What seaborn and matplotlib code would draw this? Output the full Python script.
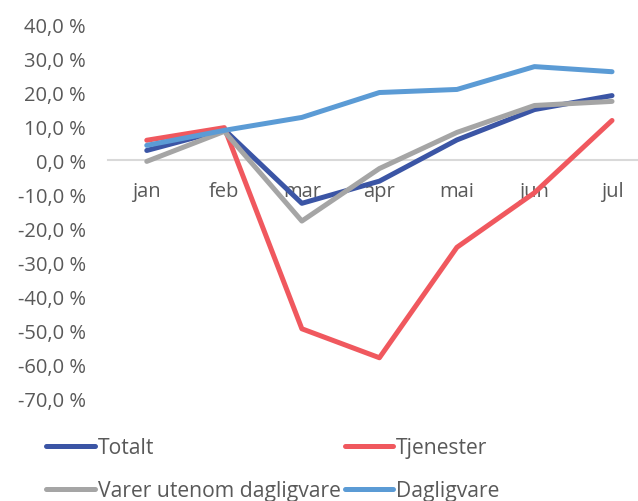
import matplotlib
matplotlib.use("Agg")
import matplotlib.pyplot as plt
import seaborn as sns
import pandas as pd
from matplotlib.ticker import FuncFormatter

# Data (percent change)
months = ["jan", "feb", "mar", "apr", "mai", "jun", "jul"]
totalt = [2.9, 9.0, -12.6, -6.1, 6.0, 14.9, 19.0]
tjenester = [5.9, 9.6, -49.4, -57.9, -25.5, -9.5, 11.7]
varer = [-0.3, 8.5, -17.8, -2.4, 8.2, 16.1, 17.3]
dagligvare = [4.4, 8.8, 12.6, 19.9, 20.8, 27.5, 26.0]

series_names = ["Totalt", "Tjenester", "Varer utenom dagligvare", "Dagligvare"]
colors = ["#3b55a5", "#f0585e", "#a5a5a5", "#5b9bd5"]

df = pd.DataFrame({
    "month": months * 4,
    "x": list(range(len(months))) * 4,
    "value": totalt + tjenester + varer + dagligvare,
    "serie": sum([[n] * len(months) for n in series_names], []),
})

sns.set_style("white")
plt.rcParams["font.family"] = ["Open Sans", "DejaVu Sans"]
text_color = "#595959"

fig = plt.figure(figsize=(6.38, 5.02), dpi=100)
ax = fig.add_axes([108 / 638, 1 - 400 / 502, 1 - 108 / 638, 375 / 502])

sns.lineplot(data=df, x="x", y="value", hue="serie", hue_order=series_names,
             palette=colors, linewidth=3.6, ax=ax, legend=False,
             solid_capstyle="round")

ax.set_ylim(-70, 40)
ax.set_xlim(-0.5, 6.335)
ax.set_yticks(range(-70, 41, 10))
ax.yaxis.set_major_formatter(FuncFormatter(lambda v, p: f"{v:.1f} %".replace(".", ",")))
ax.set_xticks(range(len(months)))
ax.set_xticklabels(months)
ax.set_xlabel("")
ax.set_ylabel("")

for s in ["top", "right", "left"]:
    ax.spines[s].set_visible(False)
ax.spines["bottom"].set_position(("data", 0))
ax.spines["bottom"].set_color("#d9d9d9")
ax.spines["bottom"].set_linewidth(1.5)
ax.spines["bottom"].set_zorder(0)

ax.tick_params(axis="y", length=0, labelsize=14.5, labelcolor=text_color, pad=16)
ax.tick_params(axis="x", length=0, labelsize=14.5, labelcolor=text_color, pad=15)

# legend is filled column by column, so order the entries to get
# Totalt / Tjenester on the first row
order = [0, 2, 1, 3]
handles = [plt.Line2D([], [], color=colors[i], lw=3.6, solid_capstyle="round") for i in order]
labels = [series_names[i] for i in order]
fig.legend(handles, labels, loc="upper left", bbox_to_anchor=(46 / 638, 1 - 438 / 502),
           ncol=2, frameon=False, fontsize=15.2, labelcolor=text_color,
           handlelength=2.3, handletextpad=0.14, columnspacing=0.2,
           labelspacing=1.05, borderpad=0, borderaxespad=0)

fig.savefig("out.png", dpi=100)
